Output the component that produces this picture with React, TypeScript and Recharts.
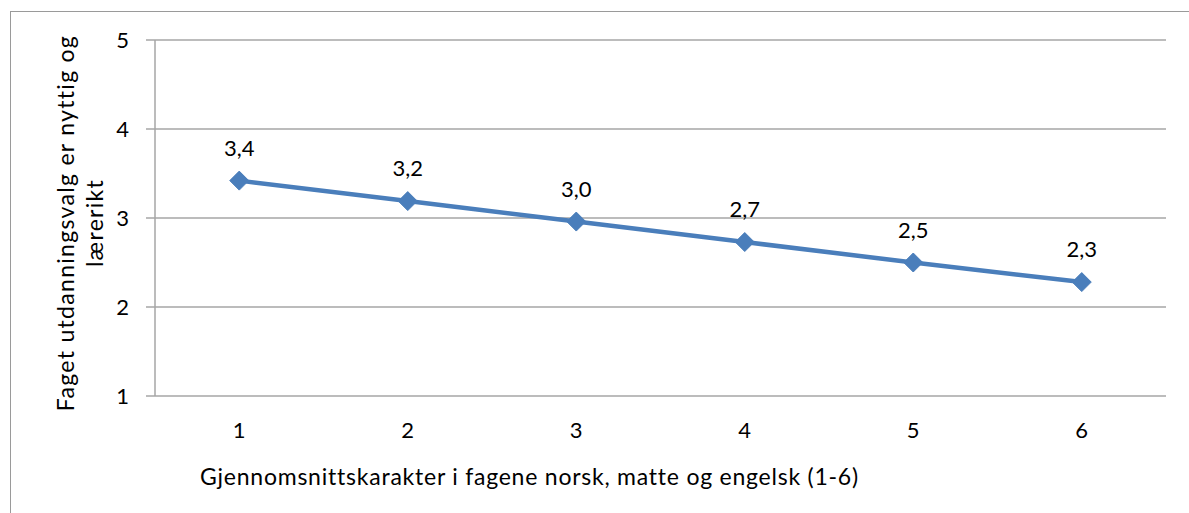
import { LineChart, Line, XAxis, YAxis, CartesianGrid, LabelList } from 'recharts'

// average grade (norsk, matte, engelsk) vs. mean agreement score
const grades = ['1', '2', '3', '4', '5', '6']
const scores = [3.42, 3.19, 2.96, 2.73, 2.5, 2.28]
const yTicks = [1, 2, 3, 4, 5]
const edgeTicks = [0, 1, 2, 3, 4, 5, 6]

const data = grades.map((g, i) => ({ grade: g, score: scores[i] }))

const GRID = '#a6a6a6'
const BLUE = '#4a7ebb'
const FONT = 'Lato, "Noto Sans", sans-serif'

const Diamond = (props: any) => {
  const { cx, cy } = props
  if (cx == null || cy == null) return null
  const r = 9.5
  return (
    <path
      d={`M${cx},${cy - r}L${cx + r},${cy}L${cx},${cy + r}L${cx - r},${cy}Z`}
      fill={BLUE}
      stroke={BLUE}
      strokeWidth={1}
    />
  )
}

const fmt = (v: any) => Number(v).toFixed(1).replace('.', ',')

export default function App() {
  return (
    <div style={{ position: 'absolute', left: 0, top: 0, width: 1189, height: 513, overflow: 'hidden', background: '#fff' }}>
      <div style={{ position: 'absolute', left: 10, top: 11, width: 1200, height: 520, border: '1px solid #9a9a9a' }} />
      <div style={{ position: 'absolute', left: 0, top: 0 }}>
        <LineChart
          width={1189}
          height={513}
          data={data}
          margin={{ top: 40, right: 23, bottom: 77, left: 95 }}
          style={{ fontFamily: FONT }}
        >
          <CartesianGrid vertical={false} stroke={GRID} strokeWidth={1.5} />
          <XAxis
            xAxisId="edge"
            type="number"
            domain={[0, 6]}
            ticks={edgeTicks}
            tick={false}
            height={0}
            tickSize={7}
            stroke={GRID}
            strokeWidth={1.5}
          />
          <XAxis
            dataKey="grade"
            scale="band"
            axisLine={false}
            tickLine={false}
            tickSize={0}
            tickMargin={26}
            height={40}
            tick={{ fill: '#000', fontSize: 22 }}
            label={{
              content: () => (
                <text x={200} y={485} fontSize={23} letterSpacing={0.77} fill="#000" textAnchor="start" fontFamily={FONT}>
                  Gjennomsnittskarakter i fagene norsk, matte og engelsk (1-6)
                </text>
              ),
            }}
          />
          <YAxis
            domain={[1, 5]}
            ticks={yTicks}
            interval={0}
            width={60}
            tickSize={9}
            tickMargin={17}
            stroke={GRID}
            strokeWidth={1.5}
            tick={{ fill: '#000', fontSize: 22 }}
            label={{
              content: () => (
                <text
                  transform="translate(74,223) rotate(-90)"
                  fontSize={23}
                  letterSpacing={1.3}
                  fill="#000"
                  textAnchor="middle"
                  fontFamily={FONT}
                >
                  <tspan x={0} y={0}>Faget utdanningsvalg er nyttig og</tspan>
                  <tspan x={0} y={29}>lærerikt</tspan>
                </text>
              ),
            }}
          />
          <Line
            dataKey="score"
            stroke={BLUE}
            strokeWidth={4.5}
            dot={<Diamond />}
            activeDot={false}
            isAnimationActive={false}
          >
            <LabelList dataKey="score" position="top" offset={25} formatter={fmt} fill="#000" fontSize={22} />
          </Line>
        </LineChart>
      </div>
    </div>
  )
}
